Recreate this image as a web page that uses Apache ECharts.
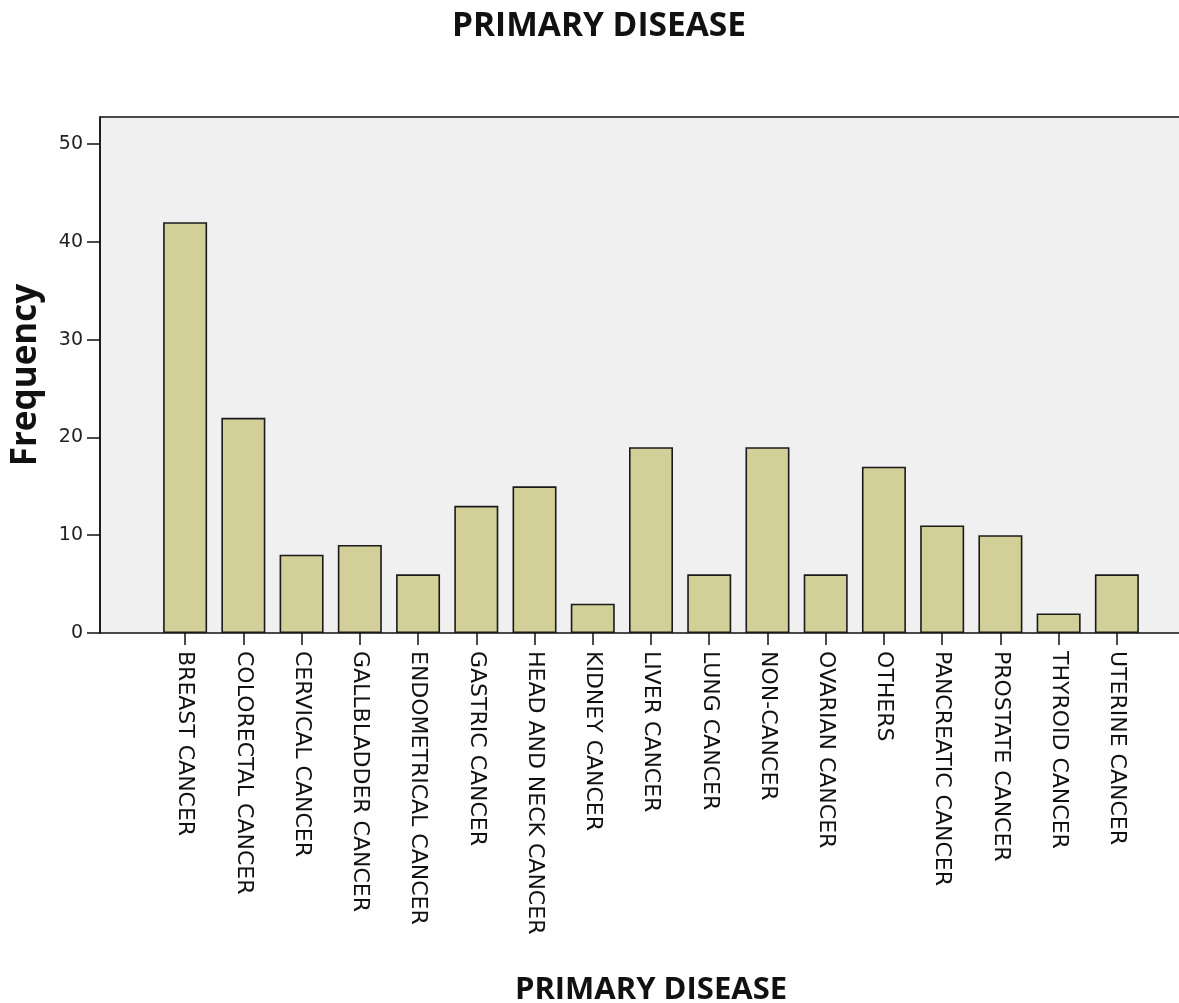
<!DOCTYPE html>
<html>
<head>
<meta charset="utf-8">
<script src="https://cdn.jsdelivr.net/npm/echarts@6/dist/echarts.min.js"></script>
<style>html,body{margin:0;padding:0;background:#fff}#c{width:1179px;height:1003px}</style>
</head>
<body>
<div id="c"></div>
<script>
const categories = ['BREAST CANCER','COLORECTAL CANCER','CERVICAL CANCER','GALLBLADDER CANCER','ENDOMETRICAL CANCER','GASTRIC CANCER','HEAD AND NECK CANCER','KIDNEY CANCER','LIVER CANCER','LUNG CANCER','NON-CANCER','OVARIAN CANCER','OTHERS','PANCREATIC CANCER','PROSTATE CANCER','THYROID CANCER','UTERINE CANCER'];
const frequency = [42,22,8,9,6,13,15,3,19,6,19,6,17,11,10,2,6];
const yMin = 0, yMax = 52.76, yInterval = 10;

const chart = echarts.init(document.getElementById('c'));
chart.setOption({
  animation: false,
  title: {
    text: 'PRIMARY DISEASE', left: 594, top: 4, textAlign: 'center',
    textStyle: {fontFamily: 'Open Sans', fontWeight: 'bold', fontSize: 33.5, color: '#111'}
  },
  grid: [
    {left: 100, right: -3, top: 117, bottom: 370, show: true, backgroundColor: '#f0f0f0', borderColor: '#111', borderWidth: 1.5, containLabel: false, outerBoundsMode: 'none'},
    {left: 156, right: 33, top: 117, bottom: 370, containLabel: false, outerBoundsMode: 'none'}
  ],
  xAxis: [
    {type: 'category', gridIndex: 0, data: [''], show: false},
    {
      type: 'category', gridIndex: 1, data: categories,
      axisLine: {show: false},
      axisTick: {show: true, alignWithLabel: true, length: 12, lineStyle: {color: '#111', width: 1.5}},
      axisLabel: {rotate: -90, margin: 18, interval: 0, fontFamily: 'DejaVu Sans', fontSize: 22, color: '#111'},
      name: 'PRIMARY DISEASE', nameLocation: 'middle', nameGap: 342,
      nameTextStyle: {fontFamily: 'Open Sans', fontWeight: 'bold', fontSize: 31, color: '#111'}
    }
  ],
  yAxis: [
    {
      type: 'value', gridIndex: 0, min: yMin, max: yMax, interval: yInterval,
      axisLine: {show: true, lineStyle: {color: '#111', width: 1.5}},
      axisTick: {show: true, length: 13, lineStyle: {color: '#111', width: 1.5}},
      axisLabel: {margin: 17, showMaxLabel: false, fontFamily: 'DejaVu Sans', fontSize: 19, color: '#222'},
      splitLine: {show: false},
      name: 'Frequency', nameLocation: 'middle', nameGap: 56,
      nameTextStyle: {fontFamily: 'Open Sans', fontWeight: 'bold', fontSize: 35, color: '#111'}
    },
    {type: 'value', gridIndex: 1, min: yMin, max: yMax, interval: yInterval, show: false, splitLine: {show: false}}
  ],
  series: [{
    type: 'bar', xAxisIndex: 1, yAxisIndex: 1, data: frequency, barWidth: 44,
    itemStyle: {color: '#d3cf98', borderColor: '#1a1a1a', borderWidth: 1.6}
  }]
});
</script>
</body>
</html>
